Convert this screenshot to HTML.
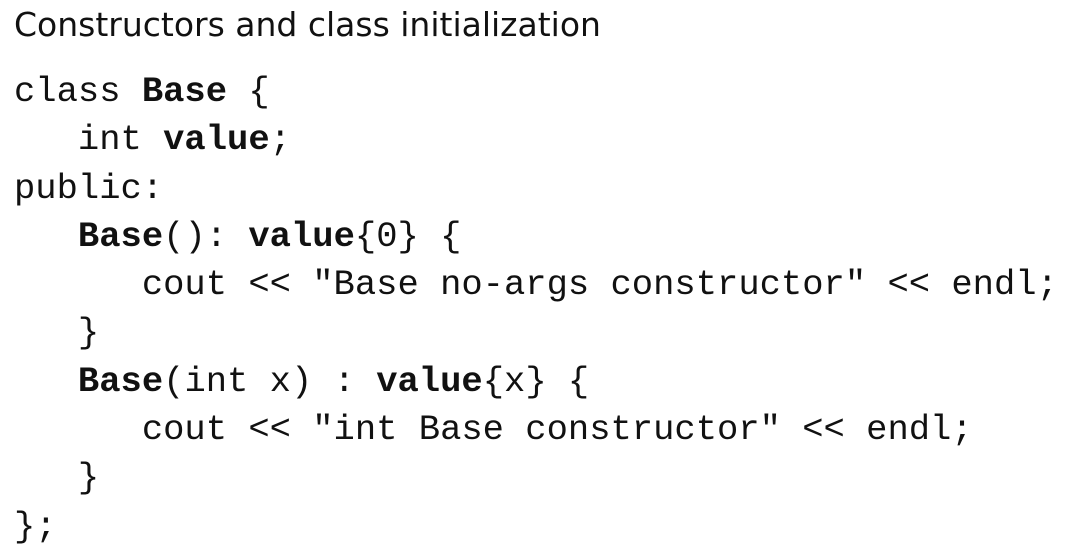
<!DOCTYPE html>
<html><head><style>
html,body{margin:0;padding:0;background:#fff;width:1069px;height:559px;overflow:hidden}
h1{position:absolute;left:14px;top:4px;margin:0;font:33px/42px "DejaVu Sans",sans-serif;color:#111;font-weight:normal;white-space:nowrap}
pre{position:absolute;left:14px;top:68px;margin:0;font:35.5px/48.3px "Liberation Mono",monospace;color:#111}
b{font-weight:bold}
</style></head><body>
<h1>Constructors and class initialization</h1>
<pre>class <b>Base</b> {
   int <b>value</b>;
public:
   <b>Base</b>(): <b>value</b>{0} {
      cout &lt;&lt; "Base no-args constructor" &lt;&lt; endl;
   }
   <b>Base</b>(int x) : <b>value</b>{x} {
      cout &lt;&lt; "int Base constructor" &lt;&lt; endl;
   }
};</pre>
</body></html>
